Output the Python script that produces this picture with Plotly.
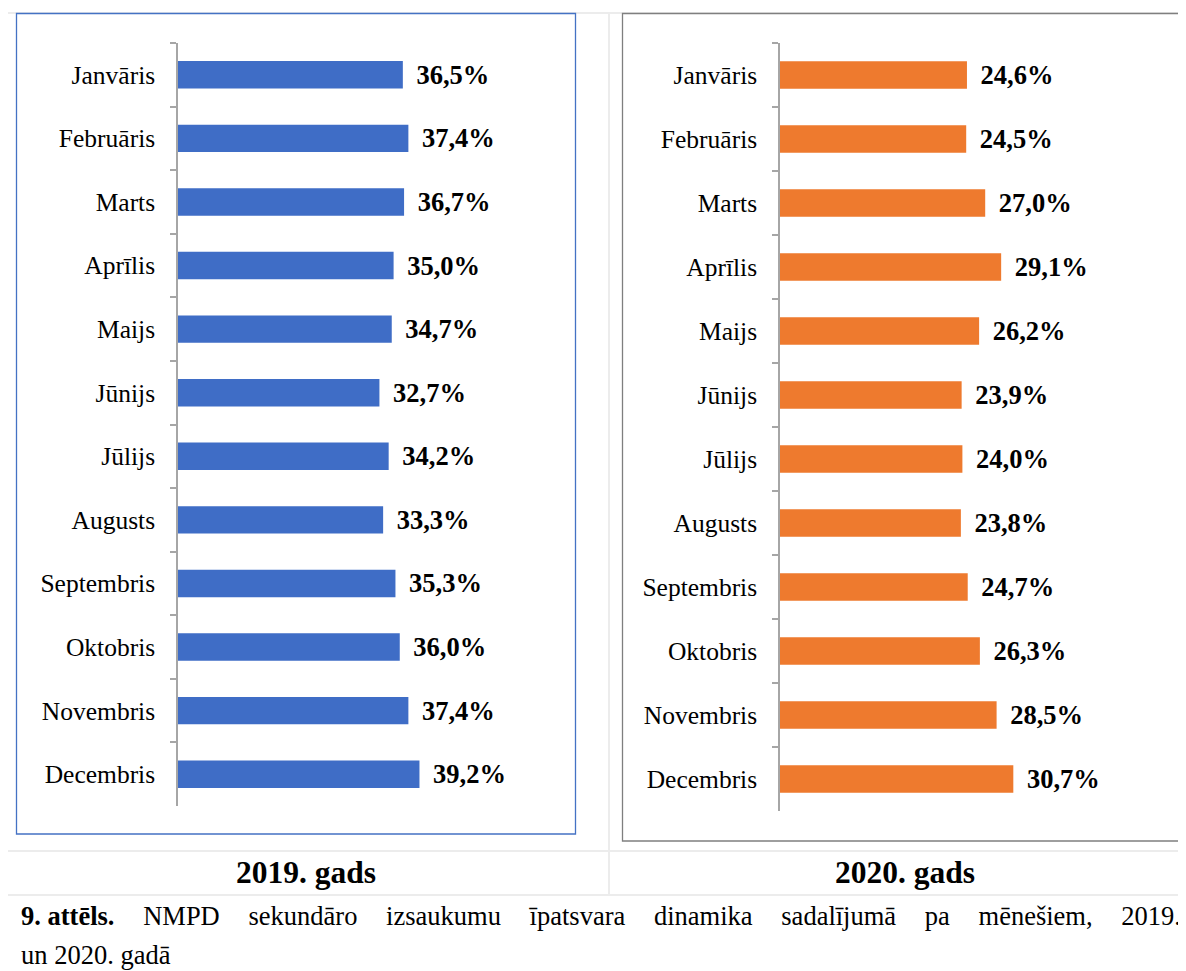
import plotly.graph_objects as go

months = ["Janvāris", "Februāris", "Marts", "Aprīlis", "Maijs", "Jūnijs",
          "Jūlijs", "Augusts", "Septembris", "Oktobris", "Novembris", "Decembris"]
values_2019 = [36.5, 37.4, 36.7, 35.0, 34.7, 32.7, 34.2, 33.3, 35.3, 36.0, 37.4, 39.2]
values_2020 = [24.6, 24.5, 27.0, 29.1, 26.2, 23.9, 24.0, 23.8, 24.7, 26.3, 28.5, 30.7]
panel_titles = ["2019. gads", "2020. gads"]
caption_bold = "9. attēls."
caption_line1 = "NMPD sekundāro izsaukumu īpatsvara dinamika sadalījumā pa mēnešiem, 2019."
caption_line2 = "un 2020. gadā"

# page body has an 8px margin: the figure starts at (8, 8) in the window
OFF = 8
W, H = 1186 - OFF, 971 - OFF
FONT = "Liberation Serif, Times New Roman, serif"


def px(x):
    return (x - OFF) / W


def py(y):
    return 1 - (y - OFF) / H


def fmt(v):
    return "\u2009\u2009" + f"{v:.1f}%".replace(".", ",")


fig = go.Figure()
fig.add_trace(go.Bar(
    y=months, x=values_2019, orientation="h",
    marker=dict(color="#3F6DC6", line=dict(width=0)),
    text=[fmt(v) for v in values_2019], textposition="outside", constraintext="none",
    textfont=dict(family=FONT, size=26.5, color="black", weight="bold"),
    cliponaxis=False, xaxis="x", yaxis="y", hoverinfo="skip",
))
fig.add_trace(go.Bar(
    y=months, x=values_2020, orientation="h",
    marker=dict(color="#EE7A2E", line=dict(width=0)),
    text=[fmt(v) for v in values_2020], textposition="outside", constraintext="none",
    textfont=dict(family=FONT, size=26.5, color="black", weight="bold"),
    cliponaxis=False, xaxis="x2", yaxis="y2", hoverinfo="skip",
))

yax_common = dict(
    type="category", autorange="reversed", showline=True, linecolor="#A6A6A6",
    linewidth=1.5, ticks="outside", ticklen=6, tickcolor="#A6A6A6", tickwidth=1.5,
    tickson="boundaries", showgrid=False, zeroline=False,
    tickfont=dict(family=FONT, size=25.5, color="black"), ticklabelstandoff=16,
)
xax_common = dict(visible=False, showgrid=False, zeroline=False)

fig.update_layout(
    width=W, height=H, margin=dict(l=0, r=0, t=0, b=0),
    paper_bgcolor="white", plot_bgcolor="white", showlegend=False,
    bargap=0.57,
    xaxis=dict(domain=[px(178), px(178 + 62 * 6.16)], range=[0, 62], anchor="y", **xax_common),
    yaxis=dict(domain=[py(806), py(43)], anchor="x", **yax_common),
    xaxis2=dict(domain=[px(780), px(780 + 50 * 7.6)], range=[0, 50], anchor="y2", **xax_common),
    yaxis2=dict(domain=[py(811), py(43)], anchor="x2", **yax_common),
)

shapes = []
grid = "#ECECEC"
# table grid
shapes.append(dict(type="line", xref="paper", yref="paper", x0=0, x1=1, y0=py(13), y1=py(13),
                   line=dict(color=grid, width=2)))
shapes.append(dict(type="line", xref="paper", yref="paper", x0=px(609), x1=px(609), y0=py(13), y1=py(895),
                   line=dict(color=grid, width=2)))
shapes.append(dict(type="line", xref="paper", yref="paper", x0=0, x1=1, y0=py(851), y1=py(851),
                   line=dict(color=grid, width=2)))
shapes.append(dict(type="line", xref="paper", yref="paper", x0=0, x1=1, y0=py(895), y1=py(895),
                   line=dict(color=grid, width=2)))
# chart frames
shapes.append(dict(type="rect", xref="paper", yref="paper", x0=px(16.5), x1=px(575.5), y0=py(834), y1=py(13.5),
                   line=dict(color="#4472C4", width=1.3), fillcolor="rgba(0,0,0,0)"))
shapes.append(dict(type="rect", xref="paper", yref="paper", x0=px(622.5), x1=px(1200), y0=py(841), y1=py(13.5),
                   line=dict(color="#7F7F7F", width=1.3), fillcolor="rgba(0,0,0,0)"))
fig.update_layout(shapes=shapes)

gap = "\u00a0\u00a0\u00a0\u00a0\u200a"
justified = caption_line1.replace(" ", gap)
annotations = [
    dict(text=f"<b>{panel_titles[0]}</b>", x=px(306), y=py(872), xref="paper", yref="paper",
         showarrow=False, xanchor="center", yanchor="middle", font=dict(family=FONT, size=31.5, color="black")),
    dict(text=f"<b>{panel_titles[1]}</b>", x=px(905), y=py(872), xref="paper", yref="paper",
         showarrow=False, xanchor="center", yanchor="middle", font=dict(family=FONT, size=31.5, color="black")),
    dict(text=f"<b>{caption_bold}</b>{gap}{justified}", x=px(19), y=py(916),
         xref="paper", yref="paper", showarrow=False, xanchor="left", yanchor="middle",
         font=dict(family=FONT, size=26.5, color="black")),
    dict(text=caption_line2, x=px(19), y=py(955), xref="paper", yref="paper",
         showarrow=False, xanchor="left", yanchor="middle", font=dict(family=FONT, size=26.5, color="black")),
]
fig.update_layout(annotations=annotations)

fig.write_html("out.html")
